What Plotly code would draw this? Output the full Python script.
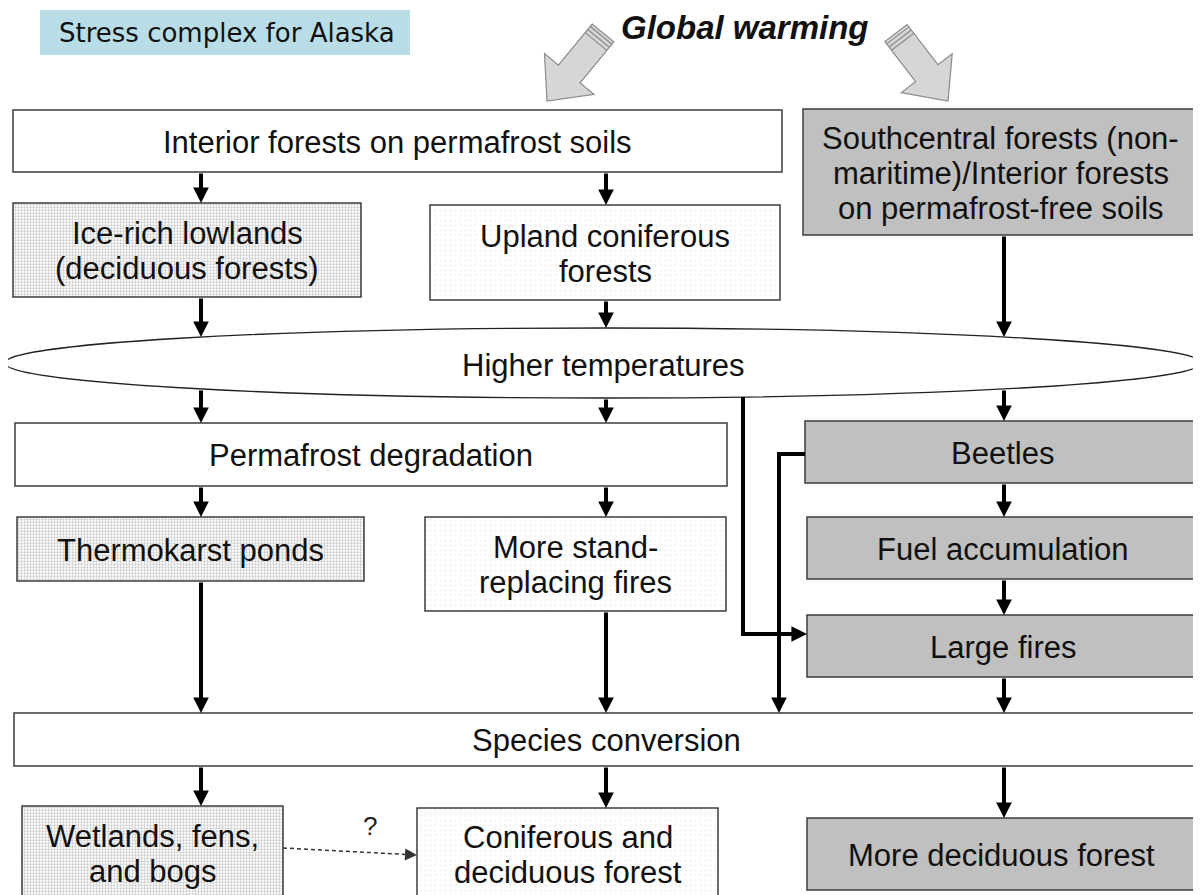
import numpy as np
import plotly.graph_objects as go

# ---------------- content ----------------
title_label = "Stress complex for Alaska"
driver_label = "Global warming"
hub_label = "Higher temperatures"
uncertain_label = "?"

node_names = ["interior", "south", "icerich", "upland", "permdeg", "beetles",
              "thermo", "stand", "fuel", "large", "species", "wetlands",
              "conif", "decid"]
node_lines = [
    ["Interior forests on permafrost soils"],
    ["Southcentral forests (non-", "maritime)/Interior forests", "on permafrost-free soils"],
    ["Ice-rich lowlands", "(deciduous forests)"],
    ["Upland coniferous", "forests"],
    ["Permafrost degradation"],
    ["Beetles"],
    ["Thermokarst ponds"],
    ["More stand-", "replacing fires"],
    ["Fuel accumulation"],
    ["Large fires"],
    ["Species conversion"],
    ["Wetlands, fens,", "and bogs"],
    ["Coniferous and", "deciduous forest"],
    ["More deciduous forest"],
]
node_kind = ["plain", "shaded", "dense", "sparse", "plain", "shaded",
             "dense", "sparse", "shaded", "shaded", "plain", "dense",
             "sparse", "shaded"]

# edges: (from, to, column index)
edges = [
    ("interior", "icerich", 0), ("interior", "upland", 1),
    ("icerich", "hub", 0), ("upland", "hub", 1), ("south", "hub", 2),
    ("hub", "permdeg", 0), ("hub", "permdeg", 1), ("hub", "beetles", 2),
    ("permdeg", "thermo", 0), ("permdeg", "stand", 1), ("beetles", "fuel", 2),
    ("fuel", "large", 2),
    ("thermo", "species", 0), ("stand", "species", 1), ("large", "species", 2),
    ("species", "wetlands", 0), ("species", "conif", 1), ("species", "decid", 2),
]

# ---------------- layout geometry (page pixels, y downward) ----------------
W, H = 1201, 895
OFF = 8  # default page margin of the html body
columns = [201, 606, 1004]
boxes = {
    "interior": (13, 110, 782, 172),
    "south": (803, 109, 1198, 235),
    "icerich": (13, 203, 361, 297),
    "upland": (430, 205, 780, 300),
    "permdeg": (15, 423, 727, 486),
    "beetles": (805, 421, 1199, 483),
    "thermo": (17, 517, 364, 581),
    "stand": (425, 517, 726, 611),
    "fuel": (807, 517, 1199, 579),
    "large": (807, 615, 1199, 677),
    "species": (14, 713, 1199, 766),
    "wetlands": (22, 806, 283, 910),
    "conif": (417, 808, 718, 910),
    "decid": (807, 818, 1195, 890),
}
hub = dict(cx=603, cy=363, rx=598, ry=35)
styles = {
    "plain": dict(shape="", fg="#ffffff", bg="#ffffff", size=8, sol=0.3),
    "shaded": dict(shape="", fg="#c0c0c0", bg="#c0c0c0", size=8, sol=0.3),
    "dense": dict(shape=".", fg="#858585", bg="#cbcbcb", size=3, sol=0.45),
    "sparse": dict(shape=".", fg="#8a8a8a", bg="#f6f6f6", size=5, sol=0.25),
}
TEXT_FONT = dict(family="Liberation Sans, Arial, sans-serif", size=31, color="#111111")
LINE_GAP = 35

fig = go.Figure()

# boxes as bars (so pattern fills can be used)
cx, wd, y0s, hs, shp, fgc, bgc, szs, sols = [], [], [], [], [], [], [], [], []
for name, kind in zip(node_names, node_kind):
    x0, y0, x1, y1 = boxes[name]
    st = styles[kind]
    cx.append((x0 + x1) / 2); wd.append(x1 - x0); y0s.append(y0); hs.append(y1 - y0)
    shp.append(st["shape"]); fgc.append(st["fg"]); bgc.append(st["bg"])
    szs.append(st["size"]); sols.append(st["sol"])
fig.add_trace(go.Bar(
    x=cx, y=hs, base=y0s, width=wd,
    marker=dict(color=bgc, line=dict(color="#3c3c3c", width=1.5),
                pattern=dict(shape=shp, fgcolor=fgc, bgcolor=bgc, size=szs,
                             solidity=sols, fillmode="replace")),
    hoverinfo="skip", showlegend=False))

shapes = []
annotations = []

# title label
shapes.append(dict(type="rect", x0=40, x1=410, y0=10, y1=55, xref="x", yref="y",
                   fillcolor="#b8dde6", line=dict(width=0), layer="below"))
annotations.append(dict(x=227, y=33, text=title_label, showarrow=False,
                        font=dict(family="Comic Sans MS, DejaVu Sans, sans-serif", size=26, color="#111"),
                        xanchor="center", yanchor="middle"))
# driver label
annotations.append(dict(x=745, y=27, text="<b><i>" + driver_label + "</i></b>", showarrow=False,
                        font=dict(family="Liberation Sans, Arial, sans-serif", size=33, color="#111"),
                        xanchor="center", yanchor="middle"))

# block arrows for driver
def block_arrow(tail, tip, shaft=14, head=32, head_len=35):
    T = np.array(tail, float); P = np.array(tip, float)
    d = P - T; L = np.hypot(*d); u = d / L; n = np.array([u[1], -u[0]])
    N = T + (L - head_len) * u
    pts = [T + shaft * n, N + shaft * n, N + head * n, P, N - head * n, N - shaft * n, T - shaft * n]
    path = "M " + " L ".join(f"{p[0]:.1f},{p[1]:.1f}" for p in pts) + " Z"
    out = [dict(type="path", path=path, fillcolor="#d6d6d6", line=dict(color="#8a8a8a", width=1.2))]
    for k in (3, 7, 11):
        a = T + k * u + shaft * n; b = T + k * u - shaft * n
        out.append(dict(type="line", x0=a[0], y0=a[1], x1=b[0], y1=b[1], line=dict(color="#8a8a8a", width=1.2)))
    return out

shapes += block_arrow((603, 33), (547, 101))
shapes += block_arrow((896, 33), (948, 101))

# hub ellipse
shapes.append(dict(type="circle", x0=hub["cx"] - hub["rx"], x1=hub["cx"] + hub["rx"],
                   y0=hub["cy"] - hub["ry"], y1=hub["cy"] + hub["ry"],
                   fillcolor="white", line=dict(color="#222", width=1.3)))
annotations.append(dict(x=hub["cx"], y=hub["cy"] + 2, text=hub_label, showarrow=False,
                        font=TEXT_FONT, xanchor="center", yanchor="middle"))

def hub_edge(x, top):
    dy = hub["ry"] * np.sqrt(max(0.0, 1 - ((x - hub["cx"]) / hub["rx"]) ** 2))
    return hub["cy"] - dy if top else hub["cy"] + dy

# node texts
for name, lines in zip(node_names, node_lines):
    x0, y0, x1, y1 = boxes[name]
    mx, my = (x0 + x1) / 2, (y0 + y1) / 2
    if name in ("wetlands", "conif"):
        my = (y0 + 895) / 2 + 2
    n = len(lines)
    for i, t in enumerate(lines):
        annotations.append(dict(x=mx, y=my + (i - (n - 1) / 2) * LINE_GAP + 1, text=t,
                                showarrow=False, font=TEXT_FONT,
                                xanchor="center", yanchor="middle"))

def arrow(x0, y0, x1, y1, width=4):
    return dict(x=x1, y=y1, ax=x0, ay=y0, xref="x", yref="y", axref="x", ayref="y",
                text="", showarrow=True, arrowhead=2, arrowsize=0.78,
                arrowwidth=width, arrowcolor="#000", standoff=0, startstandoff=0)

for a, b, c in edges:
    x = columns[c]
    ys = hub_edge(x, False) if a == "hub" else boxes[a][3]
    ye = hub_edge(x, True) if b == "hub" else boxes[b][1]
    annotations.append(arrow(x, ys, x, ye))

# elbow: higher temperatures -> large fires
ex = 743
ey = (boxes["large"][1] + boxes["large"][3]) / 2 - 12
shapes.append(dict(type="path", path=f"M {ex},{hub_edge(ex, False)} L {ex},{ey} L {boxes['large'][0]-12},{ey}",
                   line=dict(color="#000", width=4)))
annotations.append(arrow(boxes["large"][0] - 20, ey, boxes["large"][0], ey))
# elbow: beetles -> species conversion
bx = 779
by = (boxes["beetles"][1] + boxes["beetles"][3]) / 2 + 2
shapes.append(dict(type="path", path=f"M {boxes['beetles'][0]},{by} L {bx},{by} L {bx},{boxes['species'][1]-12}",
                   line=dict(color="#000", width=4)))
annotations.append(arrow(bx, boxes["species"][1] - 20, bx, boxes["species"][1]))

# dashed uncertain link wetlands -> coniferous
dx0, dy0 = boxes["wetlands"][2], 848
dx1, dy1 = boxes["conif"][0], 855
shapes.append(dict(type="line", x0=dx0, y0=dy0, x1=dx1 - 8, y1=dy1 - 0.4, line=dict(color="#333", width=1.5, dash="4px,3px")))
annotations.append(dict(x=dx1, y=dy1, ax=dx1 - 10, ay=dy1 - 0.5, xref="x", yref="y", axref="x", ayref="y",
                        text="", showarrow=True, arrowhead=2, arrowsize=1.6, arrowwidth=1.5,
                        arrowcolor="#333", standoff=0))
annotations.append(dict(x=(dx0 + dx1) / 2 + 20, y=826, text=uncertain_label, showarrow=False,
                        font=dict(family="Liberation Sans, Arial, sans-serif", size=26, color="#222")))

fig.update_layout(
    width=W - OFF, height=H - OFF, margin=dict(l=0, r=0, t=0, b=0),
    paper_bgcolor="white", plot_bgcolor="white", showlegend=False,
    barmode="overlay",
    xaxis=dict(range=[OFF, W], visible=False, fixedrange=True),
    yaxis=dict(range=[H, OFF], visible=False, fixedrange=True),
    shapes=shapes, annotations=annotations,
)
fig.write_html("out.html")
